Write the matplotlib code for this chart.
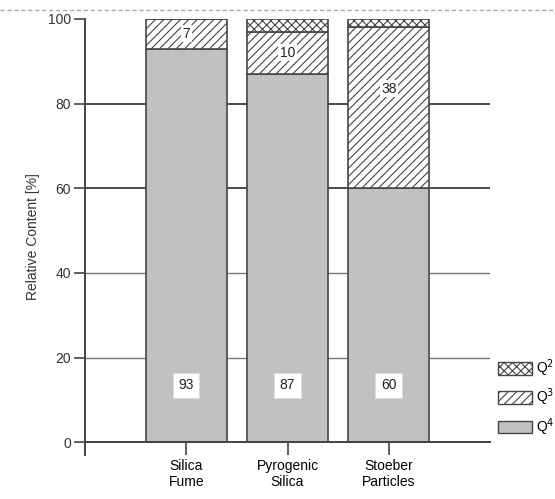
import matplotlib
matplotlib.use('Agg')
import matplotlib.pyplot as plt
from matplotlib.patches import Patch
from matplotlib.lines import Line2D

plt.rcParams['font.family'] = ['Liberation Sans', 'DejaVu Sans']
plt.rcParams['hatch.linewidth'] = 0.8

categories = ['Silica\nFume', 'Pyrogenic\nSilica', 'Stoeber\nParticles']
q4 = [93, 87, 60]
q3 = [7, 10, 38]
q2 = [0, 3, 2]
q3_label_pos = [96.5, 92, 83.5]
q4_label_pos = [13.5, 13.5, 13.5]
yticks = [0, 20, 40, 60, 80, 100]

fig = plt.figure(figsize=(5.55, 4.99), dpi=100)
ax = fig.add_axes([85 / 555, 1 - 455 / 499, 405 / 555, 436 / 499])

x = list(range(len(categories)))
edge = '#454545'
width = 0.8

# gridlines behind the bars
for y in [20, 40, 60, 80]:
    dark = y in (60, 80)
    ax.axhline(y, color='#3a3a3a' if dark else '#777777', lw=1.3 if dark else 1.0, zorder=0)

ax.bar(x, q4, width, color='#c0c0c0', edgecolor=edge, lw=1.2, zorder=2)
ax.bar(x, q3, width, bottom=q4, color='white', edgecolor=edge, hatch='////', lw=1.2, zorder=2)
bottom2 = [a + b for a, b in zip(q4, q3)]
ax.bar(x, q2, width, bottom=bottom2, color='white', edgecolor=edge, hatch='xxxx', lw=1.2, zorder=2)

for xi, v, yp in zip(x, q4, q4_label_pos):
    ax.text(xi, yp, str(v), ha='center', va='center', fontsize=10, color='#222222', zorder=4,
            bbox=dict(boxstyle='square,pad=0.4', fc='white', ec='#dddddd', lw=0.8))
for xi, v, yp in zip(x, q3, q3_label_pos):
    ax.text(xi, yp, str(v), ha='center', va='center', fontsize=10, color='#222222', zorder=4,
            bbox=dict(boxstyle='square,pad=0.1', fc='white', ec='none'))

ax.set_xlim(-1, 3)
ax.set_ylim(-3, 100)
ax.set_yticks(yticks)
ax.set_xticks(x)
ax.set_xticklabels(categories, fontsize=10, color='#333333', linespacing=1.4)
ax.tick_params(axis='y', length=8, width=1.2, color='#444444', labelsize=10, labelcolor='#333333', pad=2)
ax.tick_params(axis='x', length=9, width=1.2, color='#444444', pad=3)
ax.set_ylabel('Relative Content [%]', fontsize=10, color='#333333', labelpad=6)

for s in ['top', 'right']:
    ax.spines[s].set_visible(False)
ax.spines['left'].set_color('#444444')
ax.spines['left'].set_linewidth(1.4)
ax.spines['bottom'].set_position(('data', 0))
ax.spines['bottom'].set_color('#444444')
ax.spines['bottom'].set_linewidth(1.4)
ax.patch.set_alpha(0)

handles = [
    Patch(facecolor='white', edgecolor=edge, hatch='xxxx', label='Q$^2$'),
    Patch(facecolor='white', edgecolor=edge, hatch='////', label='Q$^3$'),
    Patch(facecolor='#c0c0c0', edgecolor=edge, label='Q$^4$'),
]
fig.legend(handles=handles, loc='upper left', bbox_to_anchor=(492 / 555, 1 - 352 / 499),
           frameon=False, fontsize=10, handlelength=2.5, handleheight=1.0,
           labelspacing=0.55, handletextpad=0.3, borderaxespad=0)

# dashed border line at the top of the figure
fig.add_artist(Line2D([0, 1], [1 - 10 / 499, 1 - 10 / 499], transform=fig.transFigure,
                      color='#aaaaaa', lw=1, ls=(0, (3, 2))))

fig.savefig('out.png', dpi=100)
